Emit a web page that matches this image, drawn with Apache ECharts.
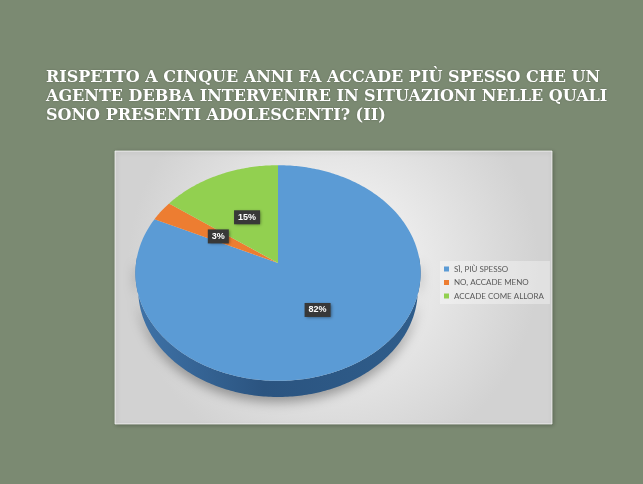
<!DOCTYPE html>
<html>
<head>
<meta charset="utf-8">
<script src="https://cdn.jsdelivr.net/npm/echarts@6/dist/echarts.min.js"></script>
<style>
  html, body { margin: 0; padding: 0; background: #7b8a72; }
  #chart { width: 643px; height: 484px; }
</style>
</head>
<body>
<div id="chart"></div>
<script>
// Survey answers (percent of respondents)
const categories = ['SÌ, PIÙ SPESSO', 'NO, ACCADE MENO', 'ACCADE COME ALLORA'];
const shares = [82, 3, 15];
const sliceColors = ['#5b9bd5', '#ed7d31', '#92d050'];
const titleLines = [
  'RISPETTO A CINQUE ANNI FA ACCADE PIÙ SPESSO CHE UN',
  'AGENTE DEBBA INTERVENIRE IN SITUAZIONI NELLE QUALI',
  'SONO PRESENTI ADOLESCENTI? (II)'
];

// cumulative start of each slice along the angle axis
const starts = [];
shares.reduce((acc, v, i) => { starts[i] = acc; return acc + v; }, 0);

// perspective view of a tilted disc (3D pie look)
const VIEW = {
  vx: 278, vy: 263,      // projected centre of the disc
  focal: 1005, dist: 7.08,
  sinT: 0.753, cosT: 0.658,
  depth: 0.185           // thickness of the disc
};

function project(ux, uz, y) {
  const yp = uz * VIEW.sinT + y * VIEW.cosT;
  const zp = uz * VIEW.cosT - y * VIEW.sinT;
  const w = VIEW.dist + zp;
  return [VIEW.vx + VIEW.focal * ux / w, VIEW.vy - VIEW.focal * yp / w];
}

function makeRenderer(idx) {
  return function (params, api) {
    const cs = params.coordSys;
    const a0 = api.value(0), a1 = api.value(1), v = api.value(2);
    const unit = (r, val) => {
      const p = api.coord([r, val]);
      return [(p[0] - cs.cx) / cs.r, (cs.cy - p[1]) / cs.r];
    };
    const arc = (from, to, y) => {
      const pts = [];
      const n = Math.max(2, Math.ceil((to - from) / 0.25));
      for (let k = 0; k <= n; k++) {
        const u = unit(1, from + (to - from) * k / n);
        pts.push(project(u[0], u[1], y));
      }
      return pts;
    };
    const color = api.visual('color');
    const children = [];

    // outer wall, only on the front half of the disc
    const ws = Math.max(a0, 24), we = Math.min(a1, 76);
    if (we > ws) {
      const top = arc(ws, we, 0);
      const bottom = arc(ws, we, -VIEW.depth).reverse();
      children.push({
        type: 'polygon', z2: 1,
        shape: { points: top.concat(bottom) },
        style: {
          fill: new echarts.graphic.LinearGradient(0, 0, 1, 0, [
            { offset: 0, color: '#3f73a8' },
            { offset: 0.45, color: '#2b5480' },
            { offset: 1, color: '#2f5d8b' }
          ]),
          shadowBlur: 12, shadowColor: 'rgba(0,0,0,0.35)', shadowOffsetY: 5
        }
      });
    }

    // top face
    const face = [project(0, 0, 0)].concat(arc(a0, a1, 0));
    children.push({
      type: 'polygon', z2: 5,
      shape: { points: face },
      style: { fill: color }
    });

    // value label
    const mid = unit(0.5, (a0 + a1) / 2);
    const lp = project(mid[0], mid[1], 0);
    children.push({
      type: 'text', z2: 20,
      x: lp[0], y: lp[1],
      style: {
        text: v + '%',
        fill: '#ffffff',
        font: 'bold 9px "Liberation Sans", Arial, sans-serif',
        align: 'center', verticalAlign: 'middle',
        backgroundColor: '#383838',
        padding: [3, 4, 2, 4],
        shadowBlur: 3, shadowColor: 'rgba(0,0,0,0.45)', shadowOffsetX: 1, shadowOffsetY: 1
      }
    });
    return { type: 'group', children };
  };
}

const chart = echarts.init(document.getElementById('chart'), null, { renderer: 'canvas' });

chart.setOption({
  backgroundColor: '#7b8a72',
  animation: false,
  title: {
    text: titleLines.join('\n'),
    left: 41, top: 63,
    textStyle: {
      color: '#ffffff',
      fontFamily: '"DejaVu Serif", serif',
      fontWeight: 'bold',
      fontSize: 16,
      lineHeight: 19,
      textShadowColor: 'rgba(0,0,0,0.25)',
      textShadowBlur: 2
    }
  },
  graphic: [{
    type: 'rect', z: -10,
    shape: { x: 115, y: 151, width: 437, height: 273 },
    style: {
      fill: new echarts.graphic.RadialGradient(0.5, 0.42, 0.75, [
        { offset: 0, color: '#fbfbfb' },
        { offset: 1, color: '#d2d2d2' }
      ]),
      stroke: 'rgba(255,255,255,0.7)', lineWidth: 1,
      shadowBlur: 4, shadowColor: 'rgba(0,0,0,0.25)', shadowOffsetX: 1, shadowOffsetY: 1
    }
  }],
  legend: {
    orient: 'vertical',
    left: 440, top: 261,
    icon: 'rect',
    itemWidth: 5, itemHeight: 5, itemGap: 5.5,
    padding: [4, 6, 4, 4],
    backgroundColor: 'rgba(255,255,255,0.35)',
    data: categories,
    textStyle: {
      color: '#595959', fontSize: 8,
      fontFamily: 'Lato, "Open Sans", sans-serif'
    }
  },
  polar: { center: [VIEW.vx, VIEW.vy], radius: 142 },
  angleAxis: { type: 'value', min: 0, max: 100, startAngle: 90, clockwise: true, show: false },
  radiusAxis: { type: 'value', min: 0, max: 1, show: false },
  series: categories.map((name, i) => ({
    type: 'custom',
    name,
    coordinateSystem: 'polar',
    clip: false,
    itemStyle: { color: sliceColors[i] },
    data: [[starts[i], starts[i] + shares[i], shares[i]]],
    renderItem: makeRenderer(i)
  }))
});
</script>
</body>
</html>
